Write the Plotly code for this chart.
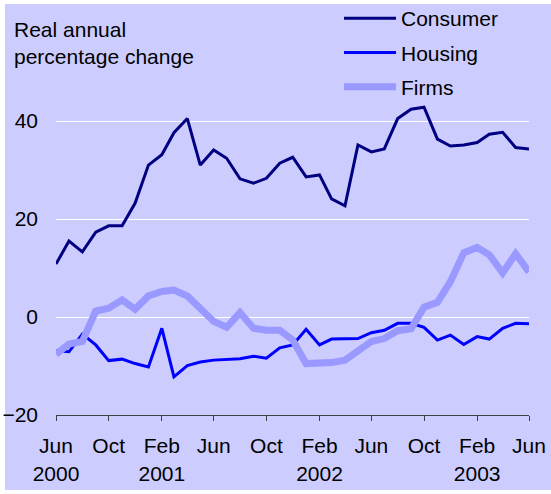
import plotly.graph_objects as go
import pandas as pd

months = pd.date_range("2000-06-01", periods=37, freq="MS")

consumer = [10.8, 15.5, 13.3, 17.3, 18.6, 18.6, 23.2, 31.0, 33.1, 37.6, 40.5, 31.0,
            34.1, 32.4, 28.2, 27.3, 28.3, 31.4, 32.6, 28.6, 29.0, 24.1, 22.7, 35.1,
            33.7, 34.3, 40.5, 42.4, 42.8, 36.3, 34.9, 35.1, 35.6, 37.3, 37.7, 34.6, 34.3]
housing = [-6.9, -7.1, -3.5, -5.7, -8.9, -8.6, -9.5, -10.2, -2.3, -12.2, -9.9, -9.2,
           -8.8, -8.6, -8.5, -8.0, -8.4, -6.3, -5.7, -2.5, -5.7, -4.5, -4.5, -4.4,
           -3.2, -2.7, -1.3, -1.3, -2.1, -4.7, -3.7, -5.6, -4.0, -4.5, -2.3, -1.3, -1.4]
firms = [-7.6, -5.5, -5.0, 1.2, 1.8, 3.5, 1.6, 4.3, 5.2, 5.5, 4.3, 1.8,
         -0.9, -2.1, 0.9, -2.3, -2.7, -2.7, -4.7, -9.5, -9.4, -9.3, -8.8, -7.1,
         -5.0, -4.4, -2.8, -2.4, 2.0, 3.0, 7.2, 13.1, 14.2, 12.7, 9.0, 12.9, 9.2]

tick_dates = months[::4]
tick_labels = ["Jun<br>2000", "Oct", "Feb<br>2001", "Jun", "Oct", "Feb<br>2002",
               "Jun", "Oct", "Feb<br>2003", "Jun"]
y_ticks = [-20, 0, 20, 40]

FONT = "Arial, Liberation Sans, sans-serif"

fig = go.Figure()
fig.add_trace(go.Scatter(x=months, y=consumer, mode="lines", name="Consumer",
                         legendgroup="c", line=dict(color="#000080", width=3)))
fig.add_trace(go.Scatter(x=months, y=housing, mode="lines", name="Housing",
                         legendgroup="h", line=dict(color="#0000FF", width=3)))
fig.add_trace(go.Scatter(x=months, y=firms, mode="lines", name="Firms",
                         legendgroup="f", line=dict(color="#9999FF", width=7)))

L, R, T, B = 56, 22, 72, 79
W, H = 551, 494
pw, ph = W - L - R, H - T - B

fig.add_shape(type="rect", xref="paper", yref="paper", layer="below",
              x0=(5 - L) / pw, x1=(W - L) / pw,
              y0=-(490 - (H - B)) / ph, y1=((H - B) - 4) / ph,
              fillcolor="#CCCCFF", line=dict(width=0))

fig.add_annotation(text="Real annual<br>percentage change", xref="paper", yref="paper",
                   x=(12 - L) / pw, y=((H - B) - 16) / ph, xanchor="left", yanchor="top",
                   align="left", showarrow=False, font=dict(size=21, color="black", family=FONT))

fig.update_layout(
    width=W, height=H,
    margin=dict(l=L, r=R, t=T, b=B, autoexpand=False),
    paper_bgcolor="white",
    plot_bgcolor="rgba(0,0,0,0)",
    font=dict(family=FONT, size=21, color="black"),
    showlegend=True,
    legend=dict(x=(339 - L) / pw, y=((H - B) + 2) / ph, xanchor="left", yanchor="top",
                bgcolor="rgba(0,0,0,0)", font=dict(size=21, family=FONT),
                itemwidth=52, tracegroupgap=4),
    xaxis=dict(range=[months[0], months[-1]], tickvals=tick_dates, ticktext=tick_labels,
               showgrid=False, showline=True, linecolor="#404040", linewidth=1,
               ticks="outside", ticklen=5, tickcolor="#404040", zeroline=False,
               tickangle=0, ticklabelstandoff=7, ticklabeloverflow="allow"),
    yaxis=dict(range=[-20, 50], tickvals=y_ticks, showgrid=True, gridcolor="white",
               gridwidth=1, zeroline=False, showline=False, ticks="",
               ticklabelstandoff=17),
)

fig.write_html("out.html", config={"displayModeBar": False},
               post_script="document.body.style.margin='0';document.body.style.padding='0';")
